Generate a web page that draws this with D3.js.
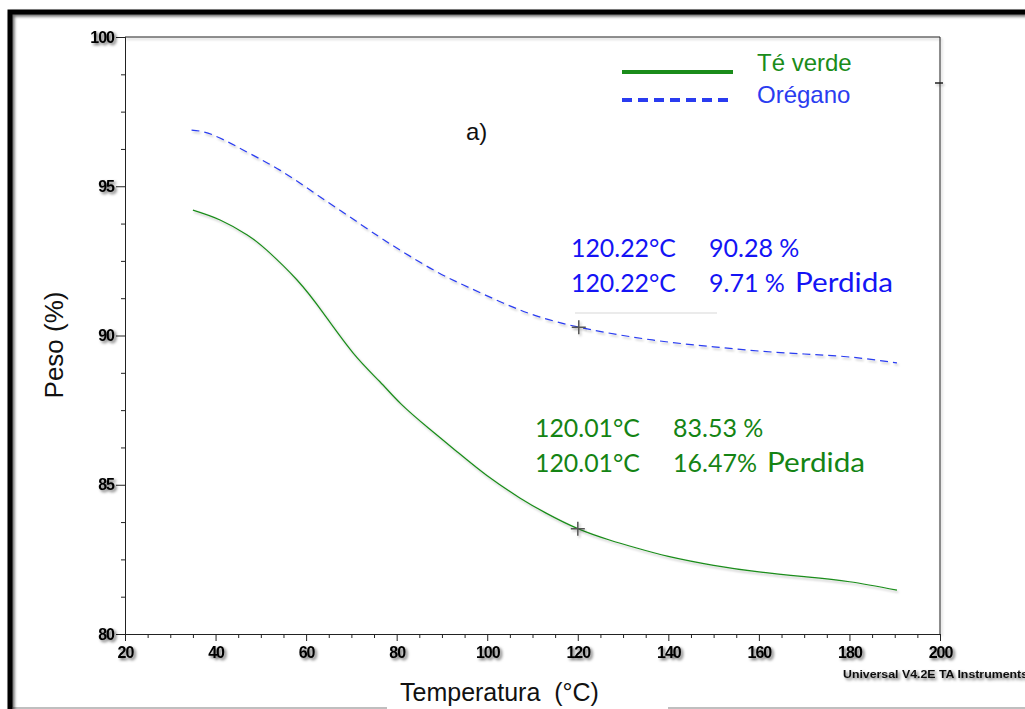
<!DOCTYPE html>
<html>
<head>
<meta charset="utf-8">
<script src="https://cdn.jsdelivr.net/npm/d3@7"></script>
<style>
body { margin: 0; background: #fff; }
svg { display: block; }
</style>
</head>
<body>
<script>
var tempVerde = [35, 41, 47, 51.3, 58, 63.8, 70.4, 76.3, 81, 87, 93, 100, 107.2, 113, 120.01, 127, 133, 140, 150, 160, 170, 180, 190.5];
var pesoVerde = [94.2, 93.87, 93.37, 92.86, 91.86, 90.75, 89.41, 88.45, 87.7, 86.9, 86.15, 85.3, 84.56, 84.05, 83.53, 83.15, 82.88, 82.6, 82.3, 82.08, 81.92, 81.75, 81.47];

var tempOregano = [34.7, 39.4, 46.9, 54.2, 61.5, 69, 75.9, 81.4, 88.9, 96.2, 103.5, 111, 120.22, 130, 140, 150, 160, 170, 180, 190.5];
var pesoOregano = [96.88, 96.72, 96.15, 95.54, 94.81, 94.04, 93.33, 92.8, 92.13, 91.59, 91.09, 90.65, 90.28, 90.0, 89.78, 89.62, 89.48, 89.38, 89.28, 89.08];

var xTicks = [20, 40, 60, 80, 100, 120, 140, 160, 180, 200];
var yTicks = [80, 85, 90, 95, 100];

var series = [
    {name: "Té verde", t: tempVerde, p: pesoVerde, color: "#1a8c1a", dash: null},
    {name: "Orégano", t: tempOregano, p: pesoOregano, color: "#2a3cf0", dash: "8,5"}
];

var marcas = [
    {t: 120.22, p: 90.28, color: "#1414f5", lines: [["120.22°C", "90.28 %", ""], ["120.22°C", "9.71 %", "Perdida"]], x: 571, y: 257, col2: 709, col3: 795},
    {t: 120.01, p: 83.53, color: "#148414", lines: [["120.01°C", "83.53 %", ""], ["120.01°C", "16.47%", "Perdida"]], x: 535, y: 437, col2: 673, col3: 767}
];

var width = 1025, height = 709;
var svg = d3.select("body").append("svg").attr("width", width).attr("height", height);

var defs = svg.append("defs");
defs.append("filter").attr("id", "sh").attr("x", "-20%").attr("y", "-50%").attr("width", "160%").attr("height", "200%")
    .append("feDropShadow").attr("dx", 2).attr("dy", 2).attr("stdDeviation", 1.5)
    .attr("flood-color", "#000").attr("flood-opacity", 0.6);
defs.append("filter").attr("id", "shl").attr("x", "-5%").attr("y", "-5%").attr("width", "110%").attr("height", "110%")
    .append("feDropShadow").attr("dx", 1.5).attr("dy", 2).attr("stdDeviation", 1.2)
    .attr("flood-color", "#000").attr("flood-opacity", 0.25);

// marco exterior
svg.append("line").attr("x1", 13).attr("x2", 387).attr("y1", 708).attr("y2", 708).attr("stroke", "#aaa").attr("stroke-width", 1.5);
svg.append("line").attr("x1", 668).attr("x2", 1025).attr("y1", 708).attr("y2", 708).attr("stroke", "#aaa").attr("stroke-width", 1.5);
svg.append("path").attr("d", "M10,709 V12 H1025").attr("fill", "none").attr("stroke", "#000").attr("stroke-width", 5)
    .attr("filter", "url(#sh)");

var x = d3.scaleLinear().domain([20, 200]).range([125, 940]);
var y = d3.scaleLinear().domain([80, 100]).range([634, 37]);

// marco del grafico
var frame = svg.append("g").attr("filter", "url(#shl)");
frame.append("path").attr("d", "M" + x(20) + "," + y(100) + " H" + x(200) + " V" + y(80))
    .attr("fill", "none").attr("stroke", "#222").attr("stroke-width", 1);
frame.append("line").attr("x1", 935).attr("x2", 943).attr("y1", 83).attr("y2", 83).attr("stroke", "#222").attr("stroke-width", 1.5);

// ejes (menores y mayores en grupos separados)
var minorX = d3.range(20, 201, 5).filter(function(d) { return d % 20 !== 0; });
var minorY = d3.range(80, 100.01, 1.25).filter(function(d) { return d % 5 !== 0; });

svg.append("g").attr("transform", "translate(0," + y(80) + ")")
    .call(d3.axisBottom(x).tickValues(minorX).tickSize(4).tickFormat(""));
svg.append("g").attr("transform", "translate(" + x(20) + ",0)")
    .call(d3.axisLeft(y).tickValues(minorY).tickSize(4).tickFormat(""));
var gx = svg.append("g").attr("transform", "translate(0," + y(80) + ")")
    .call(d3.axisBottom(x).tickValues(xTicks).tickSize(7).tickFormat(d3.format("d")));
var gy = svg.append("g").attr("transform", "translate(" + x(20) + ",0)")
    .call(d3.axisLeft(y).tickValues(yTicks).tickSize(9).tickFormat(d3.format("d")));

svg.selectAll(".domain").attr("stroke", "#222");
svg.selectAll(".tick line").attr("stroke", "#222");
[gx, gy].forEach(function(g) {
    g.attr("font-size", 16).attr("font-family", "'Liberation Sans', Arial, sans-serif");
    g.selectAll("text")
        .attr("font-size", 16)
        .style("font-family", "'Liberation Sans', Arial, sans-serif")
        .style("font-weight", "bold")
        .style("font-size", "16px")
        .style("letter-spacing", "-1px")
        .attr("fill", "#000")
        .attr("filter", "url(#sh)");
});
gx.selectAll("text").attr("dy", "0.9em");
gy.selectAll("text").attr("x", -11);

// curvas
var line = d3.line().curve(d3.curveNatural)
    .x(function(d) { return x(d[0]); })
    .y(function(d) { return y(d[1]); });

svg.append("g").attr("filter", "url(#shl)").selectAll("path.serie")
    .data(series).enter().append("path")
    .attr("class", "serie")
    .attr("d", function(s) { return line(d3.zip(s.t, s.p)); })
    .attr("fill", "none")
    .attr("stroke", function(s) { return s.color; })
    .attr("stroke-width", 1.2)
    .attr("stroke-dasharray", function(s) { return s.dash; });

// cruces de los puntos marcados
var cruz = svg.append("g").attr("filter", "url(#shl)").selectAll("g.cruz").data(marcas).enter().append("g")
    .attr("transform", function(m) { return "translate(" + x(m.t) + "," + y(m.p) + ")"; });
cruz.append("path").attr("d", "M-7,0 H7 M0,-7 V7").attr("stroke", "#555").attr("stroke-width", 1.5);

// sombra de la caja del texto azul
svg.append("line").attr("x1", 575).attr("x2", 717).attr("y1", 313).attr("y2", 313)
    .attr("stroke", "#e4e4e4").attr("stroke-width", 1.5);

// textos de los puntos
marcas.forEach(function(m) {
    var g = svg.append("g").attr("fill", m.color)
        .style("font-family", "Lato, 'Open Sans', sans-serif").style("font-size", "25px");
    m.lines.forEach(function(l, i) {
        var yy = m.y + i * 35;
        g.append("text").attr("x", m.x).attr("y", yy)
            .attr("textLength", 105).attr("lengthAdjust", "spacingAndGlyphs").text(l[0]);
        g.append("text").attr("x", m.col2).attr("y", yy).text(l[1]);
        if (l[2]) g.append("text").attr("x", m.col3).attr("y", yy).style("font-size", "27px")
            .attr("textLength", 98).attr("lengthAdjust", "spacingAndGlyphs").text(l[2]);
    });
});

// leyenda
var leg = svg.append("g").style("font-family", "'Liberation Sans', Arial, sans-serif").style("font-size", "24px");
series.forEach(function(s, i) {
    var ly = 72 + i * 28;
    leg.append("line").attr("x1", 622).attr("x2", 733).attr("y1", ly).attr("y2", ly)
        .attr("stroke", s.color).attr("stroke-width", 4)
        .attr("stroke-dasharray", s.dash ? "10,6" : null);
    leg.append("text").attr("x", 757).attr("y", ly - 1 + i * 4).attr("fill", s.color).text(s.name);
});

svg.append("text").attr("x", 466).attr("y", 140).style("font-family", "'Liberation Sans', Arial, sans-serif")
    .style("font-size", "24px").attr("fill", "#111").text("a)");

// titulos de ejes
svg.append("rect").attr("x", 387).attr("y", 670).attr("width", 281).attr("height", 39).attr("fill", "#fff");
svg.append("text").attr("x", 400).attr("y", 701).style("font-family", "'Liberation Sans', Arial, sans-serif")
    .style("font-size", "25px").attr("fill", "#111").style("white-space", "pre").text("Temperatura  (°C)");
svg.append("text").attr("transform", "translate(63,345) rotate(-90)").attr("text-anchor", "middle")
    .style("font-family", "'Liberation Sans', Arial, sans-serif").style("font-size", "26px").attr("fill", "#111").text("Peso (%)");

svg.append("text").attr("x", 843).attr("y", 678).style("font-family", "'Liberation Sans', Arial, sans-serif")
    .style("font-size", "11px").style("font-weight", "bold").attr("fill", "#111")
    .attr("textLength", 185).attr("lengthAdjust", "spacingAndGlyphs").attr("filter", "url(#sh)")
    .text("Universal V4.2E TA Instruments");
</script>
</body>
</html>
